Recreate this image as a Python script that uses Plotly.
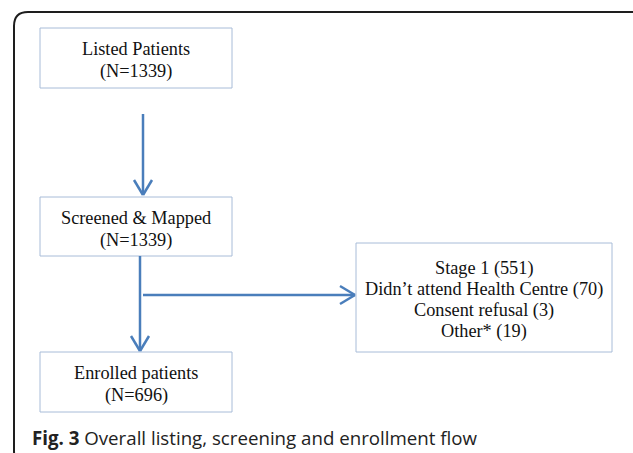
import plotly.graph_objects as go

# ---- data ----
box_titles = ["Listed Patients", "Screened & Mapped", "Enrolled patients"]
box_counts = [1339, 1339, 696]
excl_labels = ["Stage 1", "Didn\u2019t attend Health Centre", "Consent refusal", "Other*"]
excl_counts = [551, 70, 3, 19]
caption_bold = "Fig. 3"
caption_text = "Overall listing, screening and enrollment flow"

W, H = 633, 453
BLUE = "#4a7ebb"
BOXC = "#a8bcd8"
SERIF = "Liberation Serif, DejaVu Serif, serif"
SANS = "Open Sans, Noto Sans, sans-serif"
FS = 18.3

# layout geometry (pixels)
main_boxes = [(40, 28, 232, 88), (40, 197, 232, 256), (40, 352, 232, 412)]
excl_box = (356, 243, 612, 352)

fig = go.Figure()
shapes = []
ann = []

# outer rounded frame
r = 14
x0, y0, x1, y1 = 14, 12, 645, 465
path = (f"M {x0+r},{y0} L {x1-r},{y0} Q {x1},{y0} {x1},{y0+r} L {x1},{y1-r} "
        f"Q {x1},{y1} {x1-r},{y1} L {x0+r},{y1} Q {x0},{y1} {x0},{y1-r} "
        f"L {x0},{y0+r} Q {x0},{y0} {x0+r},{y0} Z")
shapes.append(dict(type="path", path=path, line=dict(color="#1e1e1e", width=2),
                   xref="x", yref="y"))

for (bx0, by0, bx1, by1), t, n in zip(main_boxes, box_titles, box_counts):
    shapes.append(dict(type="rect", x0=bx0, y0=by0, x1=bx1, y1=by1,
                       line=dict(color=BOXC, width=1), fillcolor="white"))
    cy = (by0 + by1) / 2 + 2
    cx = (bx0 + bx1) / 2
    ann.append(dict(x=cx, y=cy - 11, text=t, showarrow=False,
                    font=dict(family=SERIF, size=FS, color="#111")))
    ann.append(dict(x=cx, y=cy + 11.5, text=f"(N={n})", showarrow=False,
                    font=dict(family=SERIF, size=FS, color="#111")))

bx0, by0, bx1, by1 = excl_box
shapes.append(dict(type="rect", x0=bx0, y0=by0, x1=bx1, y1=by1,
                   line=dict(color=BOXC, width=1), fillcolor="white"))
ecx = (bx0 + bx1) / 2
ecy = (by0 + by1) / 2 + 2.5
n_l = len(excl_labels)
for i, (lab, c) in enumerate(zip(excl_labels, excl_counts)):
    yy = ecy + (i - (n_l - 1) / 2) * 20.8
    ann.append(dict(x=ecx, y=yy, text=f"{lab} ({c})", showarrow=False,
                    font=dict(family=SERIF, size=FS, color="#111")))

def line(xa, ya, xb, yb):
    shapes.append(dict(type="line", x0=xa, y0=ya, x1=xb, y1=yb,
                       line=dict(color=BLUE, width=2.5)))

# arrow 1
line(143, 114, 143, 195)
line(134, 180, 143, 195); line(152, 180, 143, 195)
# arrow 2
line(140, 256, 140, 351)
line(131, 336, 140, 351); line(149, 336, 140, 351)
# horizontal arrow
line(143, 295, 355, 295)
line(340, 286, 355, 295); line(340, 304, 355, 295)

ann.append(dict(x=30, y=437, xanchor="left", showarrow=False,
                text=f"<b>{caption_bold}</b> {caption_text}",
                font=dict(family=SANS, size=18.7, color="#222")))

fig.update_layout(shapes=shapes, annotations=ann,
                  width=W, height=H, margin=dict(l=0, r=0, t=0, b=0),
                  paper_bgcolor="white", plot_bgcolor="white", showlegend=False,
                  xaxis=dict(range=[0, W], visible=False, fixedrange=True),
                  yaxis=dict(range=[H, 0], visible=False, fixedrange=True))
fig.write_html("out.html", config={"displayModeBar": False},
               post_script="document.body.style.margin='0';document.body.style.overflow='hidden';")
